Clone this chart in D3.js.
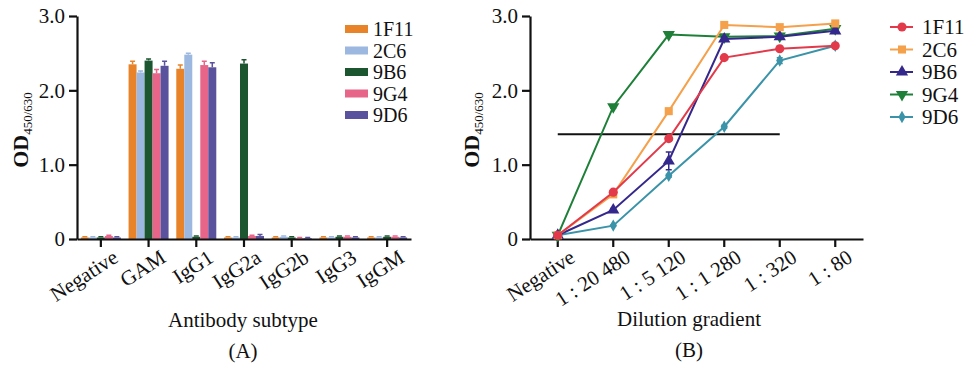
<!DOCTYPE html>
<html>
<head>
<meta charset="utf-8">
<script src="https://cdn.jsdelivr.net/npm/d3@7"></script>
<style>
  body { margin: 0; background: #fff; }
  svg { font-family: "Liberation Serif", "DejaVu Serif", serif; }
</style>
</head>
<body>
<svg id="chart" width="965" height="367"></svg>
<script>
// ---- data, panel A
var subtypes = ['Negative', 'GAM', 'IgG1', 'IgG2a', 'IgG2b', 'IgG3', 'IgGM']
var clones = ['1F11', '2C6', '9B6', '9G4', '9D6']
var barColors = ['#e8832a', '#9db8e0', '#1b5631', '#e8658a', '#5b529e']
var barValues = [
  [0.02, 2.35, 2.29, 0.02, 0.02, 0.02, 0.02],   // 1F11
  [0.02, 2.24, 2.48, 0.02, 0.03, 0.02, 0.02],   // 2C6
  [0.02, 2.40, 0.03, 2.36, 0.02, 0.03, 0.03],   // 9B6
  [0.04, 2.23, 2.34, 0.04, 0.01, 0.03, 0.03],   // 9G4
  [0.02, 2.33, 2.31, 0.04, 0.01, 0.02, 0.02]    // 9D6
]
var barErrors = [
  [0.01, 0.04, 0.05, 0.01, 0.01, 0.01, 0.01],
  [0.01, 0.02, 0.02, 0.01, 0.01, 0.01, 0.01],
  [0.01, 0.02, 0.01, 0.05, 0.01, 0.01, 0.01],
  [0.01, 0.05, 0.05, 0.01, 0.01, 0.01, 0.01],
  [0.01, 0.06, 0.06, 0.02, 0.01, 0.01, 0.01]
]

// ---- data, panel B
var dilutions = ['Negative', '1 : 20 480', '1 : 5 120', '1 : 1 280', '1 : 320', '1 : 80']
var lineColors = ['#e23a4a', '#f5a04a', '#35288c', '#1e8038', '#3a93a8']
var lineSymbols = [d3.symbolCircle, d3.symbolSquare, d3.symbolTriangle, d3.symbolTriangle, d3.symbolDiamond]
var lineValues = [
  [0.05, 0.63, 1.35, 2.44, 2.56, 2.60],   // 1F11
  [0.05, 0.60, 1.72, 2.88, 2.85, 2.90],   // 2C6
  [0.05, 0.39, 1.05, 2.69, 2.72, 2.80],   // 9B6
  [0.05, 1.78, 2.75, 2.72, 2.73, 2.83],   // 9G4
  [0.05, 0.18, 0.85, 1.51, 2.40, 2.60]    // 9D6
]
var lineErrors = [
  [0.01, 0.02, 0.03, 0.02, 0.02, 0.01],
  [0.01, 0.02, 0.03, 0.02, 0.02, 0.01],
  [0.01, 0.02, 0.12, 0.03, 0.02, 0.02],
  [0.01, 0.02, 0.02, 0.02, 0.02, 0.02],
  [0.01, 0.01, 0.02, 0.02, 0.04, 0.02]
]
var cutoff = 1.41
var yTicks = [0, 1, 2, 3]

var svg = d3.select('#chart')
var axisColor = '#111'
var fs = '21px'

function fmt(d) { return d === 0 ? '0' : d.toFixed(1) }

function styleAxis(g) {
  g.selectAll('path.domain').attr('stroke', axisColor).attr('stroke-width', 2.2)
  g.selectAll('.tick line').attr('stroke', axisColor).attr('stroke-width', 2.2)
  g.selectAll('.tick text').attr('fill', axisColor).style('font-size', fs)
    .style('font-family', '"Liberation Serif", serif')
}

function yLabel(x, y) {
  var t = svg.append('text')
    .attr('transform', 'translate(' + x + ',' + y + ') rotate(-90)')
    .attr('text-anchor', 'middle')
    .attr('fill', axisColor)
    .style('font-weight', 'bold')
    .style('font-size', '22px')
  t.append('tspan').text('OD')
  t.append('tspan').attr('dy', 4).style('font-size', '13px').style('font-weight', 'normal').text('450/630')
}

function rotateTicks(ax) {
  ax.selectAll('.tick text')
    .attr('text-anchor', 'end')
    .attr('transform', 'translate(7,4) rotate(-33)')
    .attr('dy', '0.35em')
}

// ================= Panel A =================
var yA = d3.scaleLinear().domain([0, 3]).range([239, 16])
var xA = d3.scaleBand().domain(subtypes).range([77, 411])
var bw = 8
var xInner = d3.scaleBand().domain(clones).range([-bw * 2.5, bw * 2.5])

var gA = svg.append('g')

clones.forEach(function (c, ci) {
  var rows = subtypes.map(function (s, si) {
    return { s: s, v: barValues[ci][si], e: barErrors[ci][si] }
  })
  var g = gA.append('g').attr('fill', barColors[ci]).attr('stroke', barColors[ci])
  g.selectAll('rect').data(rows).enter().append('rect')
    .attr('x', function (d) { return xA(d.s) + xA.bandwidth() / 2 + xInner(c) })
    .attr('width', xInner.bandwidth())
    .attr('y', function (d) { return yA(d.v) })
    .attr('height', function (d) { return yA(0) - yA(d.v) })
    .attr('stroke', 'none')
  // error bar caps
  g.selectAll('path.err').data(rows).enter().append('path')
    .attr('class', 'err')
    .attr('fill', 'none')
    .attr('stroke-width', 1.5)
    .attr('d', function (d) {
      var cx = xA(d.s) + xA.bandwidth() / 2 + xInner(c) + bw / 2
      var y0 = yA(d.v), y1 = yA(d.v + d.e)
      return 'M' + cx + ',' + y0 + 'V' + y1 + 'M' + (cx - 2.5) + ',' + y1 + 'H' + (cx + 2.5)
    })
})

var axA = svg.append('g').attr('transform', 'translate(0,239)')
  .call(d3.axisBottom(xA).tickSize(8).tickSizeOuter(0).tickPadding(6))
axA.call(styleAxis)
rotateTicks(axA)

var ayA = svg.append('g').attr('transform', 'translate(77,0)')
  .call(d3.axisLeft(yA).tickValues(yTicks).tickFormat(fmt).tickSize(8).tickSizeOuter(0).tickPadding(4))
ayA.call(styleAxis)

yLabel(28, 130)

svg.append('text').attr('x', 243).attr('y', 327).attr('text-anchor', 'middle')
  .attr('fill', axisColor).style('font-size', fs).text('Antibody subtype')
svg.append('text').attr('x', 243).attr('y', 358).attr('text-anchor', 'middle')
  .attr('fill', axisColor).style('font-size', fs).text('(A)')

// legend A
var legA = svg.append('g')
clones.forEach(function (c, i) {
  var y = 29 + i * 21.5
  legA.append('rect').attr('x', 345).attr('y', y - 4).attr('width', 23).attr('height', 8).attr('fill', barColors[i])
  legA.append('text').attr('x', 373).attr('y', y).attr('dy', '0.35em')
    .attr('fill', axisColor).style('font-size', '20px').text(c)
})

// ================= Panel B =================
var yB = d3.scaleLinear().domain([0, 3]).range([239, 16])
var xB = d3.scaleBand().domain(dilutions).range([530, 863])
function px(i) { return xB(dilutions[i]) + xB.bandwidth() / 2 }

var axB = svg.append('g').attr('transform', 'translate(0,239)')
  .call(d3.axisBottom(xB).tickSize(8).tickSizeOuter(0).tickPadding(6))
axB.call(styleAxis)
rotateTicks(axB)

var ayB = svg.append('g').attr('transform', 'translate(530,0)')
  .call(d3.axisLeft(yB).tickValues(yTicks).tickFormat(fmt).tickSize(8).tickSizeOuter(0).tickPadding(4))
ayB.call(styleAxis)

yLabel(479, 130)

// cutoff line
svg.append('line')
  .attr('x1', px(0)).attr('x2', px(4))
  .attr('y1', yB(cutoff)).attr('y2', yB(cutoff))
  .attr('stroke', axisColor).attr('stroke-width', 2)

var line = d3.line().x(function (d, i) { return px(i) }).y(function (d) { return yB(d) })

// draw last series first so 1F11 ends on top
d3.range(clones.length).reverse().forEach(function (ci) {
  var g = svg.append('g')
  var col = lineColors[ci]
  g.append('path').datum(lineValues[ci]).attr('d', line)
    .attr('fill', 'none').attr('stroke', col).attr('stroke-width', 2)
  g.selectAll('path.err').data(lineValues[ci]).enter().append('path')
    .attr('class', 'err').attr('fill', 'none').attr('stroke', col).attr('stroke-width', 1.5)
    .attr('d', function (d, i) {
      var e = lineErrors[ci][i], x = px(i)
      var y0 = yB(d - e), y1 = yB(d + e)
      return 'M' + x + ',' + y0 + 'V' + y1 + 'M' + (x - 3) + ',' + y1 + 'H' + (x + 3) +
             'M' + (x - 3) + ',' + y0 + 'H' + (x + 3)
    })
  var sym = d3.symbol().type(lineSymbols[ci]).size(ci === 4 ? 45 : 65)
  g.selectAll('path.pt').data(lineValues[ci]).enter().append('path')
    .attr('class', 'pt')
    .attr('d', sym)
    .attr('fill', col)
    .attr('transform', function (d, i) {
      return 'translate(' + px(i) + ',' + yB(d) + ')' + (ci === 3 ? ' rotate(180)' : '')
    })
})

// legend B
var legB = svg.append('g')
clones.forEach(function (c, i) {
  var y = 27 + i * 22.5
  legB.append('line').attr('x1', 890).attr('x2', 913).attr('y1', y).attr('y2', y)
    .attr('stroke', lineColors[i]).attr('stroke-width', 2)
  legB.append('path').attr('d', d3.symbol().type(lineSymbols[i]).size(i === 4 ? 45 : 65))
    .attr('fill', lineColors[i])
    .attr('transform', 'translate(902,' + y + ')' + (i === 3 ? ' rotate(180)' : ''))
  legB.append('text').attr('x', 922).attr('y', y).attr('dy', '0.35em')
    .attr('fill', axisColor).style('font-size', fs).text(c)
})

svg.append('text').attr('x', 689).attr('y', 326).attr('text-anchor', 'middle')
  .attr('fill', axisColor).style('font-size', fs).text('Dilution gradient')
svg.append('text').attr('x', 689).attr('y', 357).attr('text-anchor', 'middle')
  .attr('fill', axisColor).style('font-size', fs).text('(B)')
</script>
</body>
</html>
